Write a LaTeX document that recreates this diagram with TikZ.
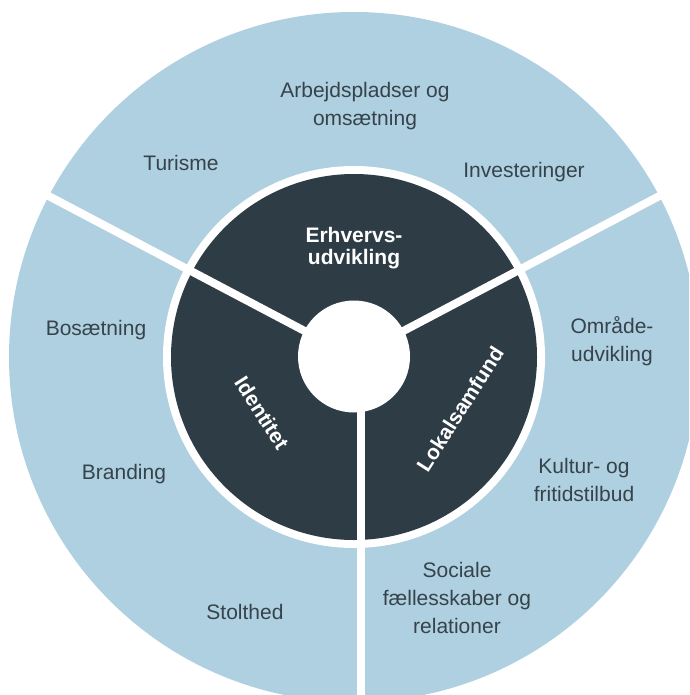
\documentclass[tikz,border=0pt]{standalone}
\usepackage{fontspec}
\setmainfont{Liberation Sans}
\definecolor{ringblue}{HTML}{AFD0E0}
\definecolor{coredark}{HTML}{2E3C45}
\definecolor{labelgray}{HTML}{36434B}
\tikzset{
  outerlabel/.style={inner sep=0pt, align=center, text=labelgray,
    font=\fontsize{21}{28}\selectfont},
  innerlabel/.style={inner sep=0pt, align=center, text=white,
    font=\fontsize{21}{22}\selectfont\bfseries},
  divider/.style={draw=white, line width=8pt, line cap=butt}
}
\begin{document}
\begin{tikzpicture}[x=1pt,y=-1pt]
\useasboundingbox (0,0) rectangle (689,695);
\clip (0,0) rectangle (689,695);
\coordinate (c) at (354,357);
\coordinate (cv) at (361,357);
\coordinate (ul) at (35.5,189.1);
\coordinate (ur) at (672.5,189.1);
\coordinate (dn) at (361,710);
% rings
\fill[ringblue] (c) circle[radius=345];
\fill[white] (c) circle[radius=191];
\fill[coredark] (c) circle[radius=183];
% dividers
\draw[divider] (c) -- (ul);
\draw[divider] (c) -- (ur);
\draw[divider] (cv) -- (dn);
\fill[white] (354,356.5) circle[radius=56];
% inner labels
\node[innerlabel] (erh) at (354,248.5) {Erhvervs-\\udvikling};
\node[innerlabel, rotate=-57.5] (ide) at (262,413) {Identitet};
\node[innerlabel, rotate=57.4] (lok) at (460,409) {Lokalsamfund};
% outer labels
\node[outerlabel] (arb) at (365,106.5) {Arbejdspladser og\\omsætning};
\node[outerlabel] (tur) at (181,162.5) {Turisme};
\node[outerlabel] (inv) at (524,171.7) {Investeringer};
\node[outerlabel] (bos) at (96,330.5) {Bosætning};
\node[outerlabel] (bra) at (124,474.5) {Branding};
\node[outerlabel] (sto) at (245,612.4) {Stolthed};
\node[outerlabel] (omr) at (612,341.2) {Område-\\udvikling};
\node[outerlabel] (kul) at (584,479.7) {Kultur- og\\fritidstilbud};
\node[outerlabel] (soc) at (457,598.4) {Sociale\\fællesskaber og\\relationer};
\end{tikzpicture}
\end{document}
